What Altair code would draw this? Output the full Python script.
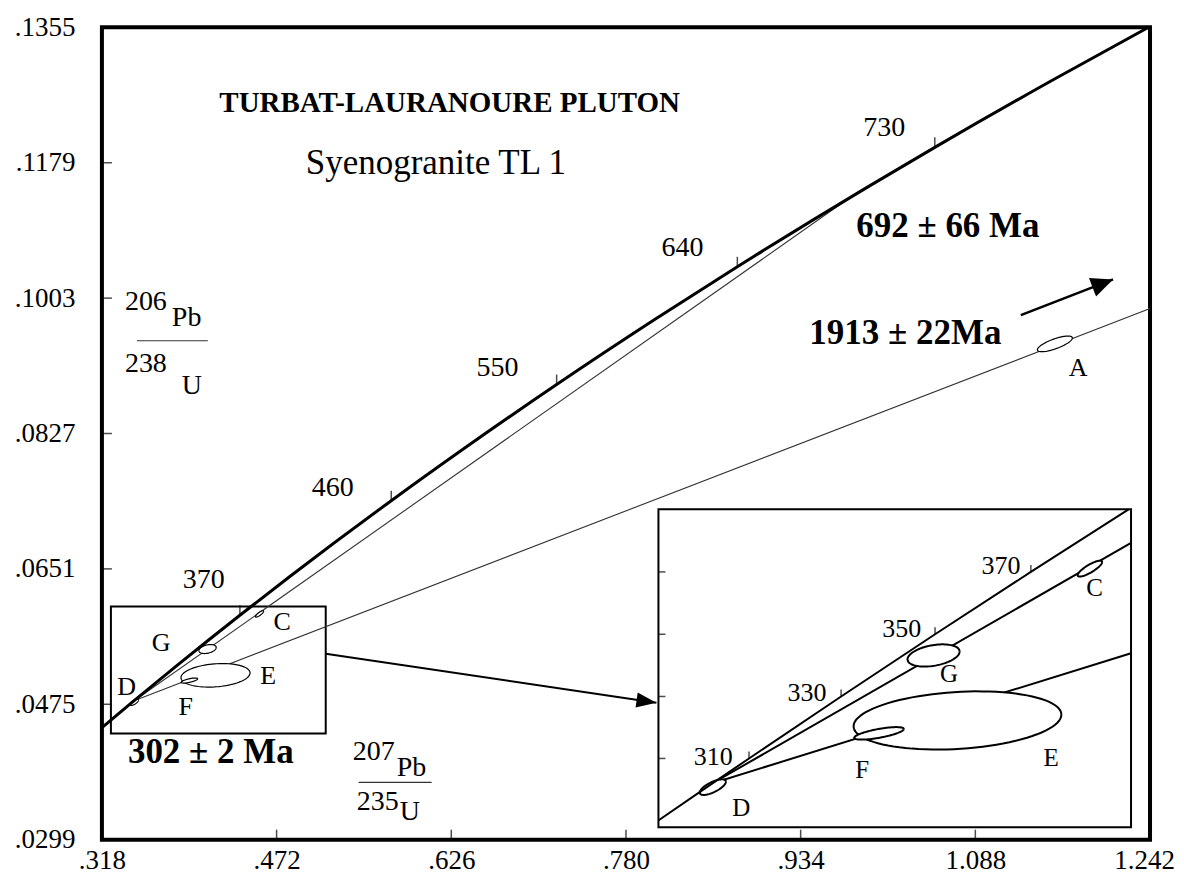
import altair as alt
import numpy as np
import pandas as pd

FONT = "Liberation Serif"

# ---------------- axes ----------------
x_ticks = [0.318, 0.472, 0.626, 0.780, 0.934, 1.088, 1.242]
y_ticks = [0.0299, 0.0475, 0.0651, 0.0827, 0.1003, 0.1179, 0.1355]

# ---------------- concordia (age Ma, 207Pb/235U, 206Pb/238U) ----------------
conc_age = [280, 300, 330, 370, 400, 460, 500, 550, 600, 640, 700, 730, 780, 820]
conc_x = [0.31753, 0.34374, 0.38403, 0.43964, 0.48281, 0.57307, 0.63628, 0.71887,
          0.80563, 0.87818, 0.99251, 1.05226, 1.15585, 1.24247]
conc_y = [0.044392, 0.047637, 0.052524, 0.059075, 0.064015, 0.073965, 0.080650,
          0.089064, 0.097544, 0.104375, 0.114702, 0.119902, 0.128622, 0.135647]

tick_age = [370, 460, 550, 640, 730]
tick_x = [0.43964, 0.57307, 0.71887, 0.87818, 1.05226]
tick_y = [0.059075, 0.073965, 0.089064, 0.104375, 0.119902]
tick_lab_x = [0.40784, 0.52147, 0.66681, 0.82976, 1.00769]
tick_lab_y = [0.06367, 0.07562, 0.09121, 0.10680, 0.12238]

# inset concordia
in_age = [290, 300, 310, 330, 350, 370, 390]
in_x = [0.33057, 0.34374, 0.35704, 0.38403, 0.41156, 0.43964, 0.46828]
in_y = [0.046013, 0.047637, 0.049264, 0.052524, 0.055795, 0.059075, 0.062366]
in_tick_age = [310, 330, 350, 370]
in_tick_x = [0.35704, 0.38403, 0.41156, 0.43964]
in_tick_y = [0.049264, 0.052524, 0.055795, 0.059075]
in_lab_x = [0.34658, 0.37401, 0.40180, 0.43086]
in_lab_y = [0.049329, 0.052702, 0.056070, 0.059401]

# discordia lines (lower intercept 302 Ma; upper 692 Ma / towards 1913 Ma)
disc_name = ["692", "692", "1913", "1913"]
disc_x = [0.34639, 0.97687, 0.34639, 1.242]
disc_y = [0.047962, 0.11331, 0.047962, 0.09894]
in_disc_x = [0.34639, 0.4690, 0.34639, 0.4690]
in_disc_y = [0.047962, 0.0606, 0.047962, 0.0548]

# error ellipses: name, centre, half-widths, correlation
ell_name = ["D", "G", "C", "E", "F", "A"]
ell_cx = [0.34643, 0.41113, 0.45695, 0.41814, 0.39515, 1.15813]
ell_cy = [0.047756, 0.054681, 0.059247, 0.051263, 0.050584, 0.094352]
ell_sx = [0.00383, 0.00763, 0.00358, 0.03045, 0.00726, 0.01541]
ell_sy = [0.00041, 0.000584, 0.000417, 0.00153, 0.000329, 0.00102]
ell_rho = [0.7, 0.35, 0.83, 0.2, 0.7, 0.75]

# labels
main_let = ["G", "C", "D", "E", "F", "A"]
main_let_x = [0.37010, 0.47699, 0.33976, 0.46448, 0.39181, 1.17857]
main_let_y = [0.05549, 0.05815, 0.04971, 0.05123, 0.04711, 0.09127]
in_let = ["C", "G", "E", "F", "D"]
in_let_x = [0.45832, 0.41562, 0.44555, 0.39021, 0.35480]
in_let_y = [0.058219, 0.053716, 0.049287, 0.048672, 0.046659]

# zoom box (main coords) and inset window (inset coords)
box_x = [0.32593, 0.5153]
box_y = [0.043709, 0.060204]
inset_xdom = [0.3305, 0.4690]
inset_ydom = [0.04564, 0.06237]

# arrows
arr1_x = [0.5153, 0.80685]
arr1_y = [0.05406, 0.0477]
arr2_x = [1.12809, 1.20939]
arr2_y = [0.09809, 0.10273]

# free annotations
big_t = ["692 ± 66 Ma", "1913 ± 22Ma", "302 ± 2 Ma"]
big_x = [0.98302, 0.94162, 0.34090]
big_y = [0.10965, 0.09575, 0.04133]

frac_t = ["206", "Pb", "238", "U", "207", "Pb", "235", "U"]
frac_x = [0.33826, 0.37966, 0.33826, 0.38847, 0.53909, 0.57784, 0.54261, 0.58048]
frac_y = [0.09978, 0.09770, 0.09173, 0.08887, 0.04133, 0.03925, 0.03484, 0.03354]
bar_x = [0.34883, 0.54437]
bar_x2 = [0.41137, 0.60867]
bar_y = [0.09476, 0.03735]

# ---------------- geometry ----------------
W, H = 1049, 813
INSET_RX = [557, 1030]
INSET_RY = [800.7, 482.3]

XMIN, XMAX = x_ticks[0], x_ticks[-1]
YMIN, YMAX = y_ticks[0], y_ticks[-1]

mx = alt.Scale(domain=[XMIN, XMAX], nice=False, zero=False)
my = alt.Scale(domain=[YMIN, YMAX], nice=False, zero=False)
ix = alt.Scale(domain=inset_xdom, range=INSET_RX, nice=False, zero=False)
iy = alt.Scale(domain=inset_ydom, range=INSET_RY, nice=False, zero=False)

x_axis = alt.Axis(values=x_ticks, title=None, grid=False, ticks=False, domain=False,
                  labelExpr="datum.value < 1 ? substring(format(datum.value, '.3f'), 1) : format(datum.value, '.3f')",
                  labelFont=FONT, labelFontSize=27, labelPadding=8, labelColor="black",
                  labelOffset={"condition": {"test": "datum.value > 1.2", "value": -6}, "value": 0},
                  labelFlush=False, labelOverlap=False)
y_axis = alt.Axis(values=y_ticks, title=None, grid=False, ticks=False, domain=False,
                  labelExpr="substring(format(datum.value, '.4f'), 1)",
                  labelFont=FONT, labelFontSize=27, labelPadding=27, labelColor="black",
                  labelFlush=False, labelOverlap=False)


def MX(f="x"):
    return alt.X(f, type="quantitative", scale=mx, axis=x_axis)


def MY(f="y"):
    return alt.Y(f, type="quantitative", scale=my, axis=y_axis)


def IX(f="x"):
    return alt.X(f, type="quantitative", scale=ix, axis=None)


def IY(f="y"):
    return alt.Y(f, type="quantitative", scale=iy, axis=None)


def ellipses(names):
    rows = []
    ts = np.linspace(0, 2 * np.pi, 91)
    for n, cx, cy, sx, sy, r in zip(ell_name, ell_cx, ell_cy, ell_sx, ell_sy, ell_rho):
        if n not in names:
            continue
        for k, t in enumerate(ts):
            rows.append({"name": n, "k": k,
                         "x": cx + sx * np.cos(t),
                         "y": cy + sy * (r * np.cos(t) + np.sqrt(1 - r * r) * np.sin(t))})
    return pd.DataFrame(rows)


conc_df = pd.DataFrame({"age": conc_age, "x": conc_x, "y": conc_y})
tick_df = pd.DataFrame({"age": tick_age, "x": tick_x, "y": tick_y})
tlab_df = pd.DataFrame({"t": [str(a) for a in tick_age], "x": tick_lab_x, "y": tick_lab_y})
in_df = pd.DataFrame({"age": in_age, "x": in_x, "y": in_y})
in_tick_df = pd.DataFrame({"age": in_tick_age, "x": in_tick_x, "y": in_tick_y})
in_tlab_df = pd.DataFrame({"t": [str(a) for a in in_tick_age], "x": in_lab_x, "y": in_lab_y})
in_edge_df = pd.DataFrame({"x": [inset_xdom[0]] * len(in_tick_y), "y": in_tick_y})
disc_df = pd.DataFrame({"name": disc_name, "x": disc_x, "y": disc_y, "k": [0, 1, 0, 1]})
in_disc_df = pd.DataFrame({"name": disc_name, "x": in_disc_x, "y": in_disc_y, "k": [0, 1, 0, 1]})
xt_df = pd.DataFrame({"x": x_ticks[1:-1], "y": [YMIN] * (len(x_ticks) - 2)})
yt_df = pd.DataFrame({"y": y_ticks[1:-1], "x": [XMIN] * (len(y_ticks) - 2)})

# ---------------- main panel ----------------
box = alt.Chart(pd.DataFrame({"x": [box_x[0]], "x2": [box_x[1]], "y": [box_y[0]], "y2": [box_y[1]]})).mark_rect(
    fill=None, stroke="black", strokeWidth=2).encode(x=MX(), x2="x2", y=MY(), y2="y2")

disc = alt.Chart(disc_df).mark_line(color="#333333", strokeWidth=1.1, clip=True).encode(
    x=MX(), y=MY(), detail="name:N", order="k:Q")

ell_main = alt.Chart(ellipses(ell_name)).mark_line(fill="white", stroke="black", strokeWidth=1.2).encode(
    x=MX(), y=MY(), detail="name:N", order="k:Q")

conc = alt.Chart(conc_df).mark_line(color="black", strokeWidth=3, clip=True, interpolate="monotone").encode(
    x=MX(), y=MY(), order="age:Q")

age_ticks = alt.Chart(tick_df).mark_tick(orient="vertical", size=10, thickness=1.5, color="black", yOffset=-5).encode(
    x=MX(), y=MY())

age_labels = alt.Chart(tlab_df).mark_text(font=FONT, fontSize=28, color="black").encode(
    x=MX(), y=MY(), text="t:N")

x_inticks = alt.Chart(xt_df).mark_tick(orient="vertical", size=10, thickness=1.5, color="black", yOffset=-5).encode(
    x=MX(), y=MY())
y_inticks = alt.Chart(yt_df).mark_tick(orient="horizontal", size=10, thickness=1.5, color="black", xOffset=5).encode(
    x=MX(), y=MY())

letters = alt.Chart(pd.DataFrame({"t": main_let, "x": main_let_x, "y": main_let_y})).mark_text(
    font=FONT, fontSize=26, color="black").encode(x=MX(), y=MY(), text="t:N")

title = alt.Chart(pd.DataFrame({"t": ["TURBAT-LAURANOURE PLUTON"], "x": [0.62453], "y": [0.12563]})).mark_text(
    font=FONT, fontSize=29, fontWeight="bold", color="black").encode(x=MX(), y=MY(), text="t:N")
subtitle = alt.Chart(pd.DataFrame({"t": ["Syenogranite TL 1"], "x": [0.49769], "y": [0.11784]})).mark_text(
    font=FONT, fontSize=35, align="left", color="black").encode(x=MX(), y=MY(), text="t:N")
big = alt.Chart(pd.DataFrame({"t": big_t, "x": big_x, "y": big_y})).mark_text(
    font=FONT, fontSize=35, fontWeight="bold", align="left", color="black").encode(x=MX(), y=MY(), text="t:N")

frac = alt.Chart(pd.DataFrame({"t": frac_t, "x": frac_x, "y": frac_y})).mark_text(
    font=FONT, fontSize=28, align="left", color="black").encode(x=MX(), y=MY(), text="t:N")
bars = alt.Chart(pd.DataFrame({"x": bar_x, "x2": bar_x2, "y": bar_y})).mark_rule(
    color="#333333", strokeWidth=1.2).encode(x=MX(), x2="x2", y=MY())

arrow1 = alt.Chart(pd.DataFrame({"x": [arr1_x[0]], "x2": [arr1_x[1]], "y": [arr1_y[0]], "y2": [arr1_y[1]]})).mark_rule(
    color="black", strokeWidth=2).encode(x=MX(), x2="x2", y=MY(), y2="y2")
head1 = alt.Chart(pd.DataFrame({"x": [arr1_x[1]], "y": [arr1_y[1]]})).mark_point(
    shape="M 0 0 L -2 -0.75 L -2 0.75 Z", size=400, angle=8, filled=True, color="black", opacity=1).encode(
    x=MX(), y=MY())
arrow2 = alt.Chart(pd.DataFrame({"x": [arr2_x[0]], "x2": [arr2_x[1]], "y": [arr2_y[0]], "y2": [arr2_y[1]]})).mark_rule(
    color="black", strokeWidth=2.5).encode(x=MX(), x2="x2", y=MY(), y2="y2")
head2 = alt.Chart(pd.DataFrame({"x": [arr2_x[1]], "y": [arr2_y[1]]})).mark_point(
    shape="M 0 0 L -2 -0.9 L -2 0.9 Z", size=484, angle=339, filled=True, color="black", opacity=1).encode(
    x=MX(), y=MY())

main = alt.layer(box, disc, ell_main, conc, age_ticks, age_labels, x_inticks, y_inticks,
                 letters, title, subtitle, big, frac, bars, arrow1, head1, arrow2, head2)

# ---------------- inset panel ----------------
frame = alt.Chart(pd.DataFrame({"x": [inset_xdom[0]], "x2": [inset_xdom[1]],
                                "y": [inset_ydom[0]], "y2": [inset_ydom[1]]})).mark_rect(
    fill="white", stroke="black", strokeWidth=2).encode(x=IX(), x2="x2", y=IY(), y2="y2")
in_edge = alt.Chart(in_edge_df).mark_tick(orient="horizontal", size=7, thickness=1.5, color="black", xOffset=3.5).encode(
    x=IX(), y=IY())
in_disc = alt.Chart(in_disc_df).mark_line(color="black", strokeWidth=2).encode(
    x=IX(), y=IY(), detail="name:N", order="k:Q")
in_ell = alt.Chart(ellipses(["D", "G", "C", "E", "F"])).mark_line(fill="white", stroke="black", strokeWidth=2).encode(
    x=IX(), y=IY(), detail="name:N", order="k:Q")
in_conc = alt.Chart(in_df).mark_line(color="black", strokeWidth=2).encode(x=IX(), y=IY(), order="age:Q")
in_ticks = alt.Chart(in_tick_df).mark_tick(orient="vertical", size=7, thickness=1.5, color="black", yOffset=-3.5).encode(
    x=IX(), y=IY())
in_tlab = alt.Chart(in_tlab_df).mark_text(font=FONT, fontSize=26, color="black").encode(x=IX(), y=IY(), text="t:N")
in_letters = alt.Chart(pd.DataFrame({"t": in_let, "x": in_let_x, "y": in_let_y})).mark_text(
    font=FONT, fontSize=25, color="black").encode(x=IX(), y=IY(), text="t:N")

inset = alt.layer(frame, in_edge, in_disc, in_ell, in_conc, in_ticks, in_tlab, in_letters)

chart = alt.layer(main, inset).resolve_scale(x="independent", y="independent").properties(
    width=W, height=H,
    autosize=alt.AutoSizeParams(type="none"),
    padding={"left": 94, "top": 19, "right": 26, "bottom": 40},
    background="white",
).configure_view(stroke="black", strokeWidth=4)

chart.save("out.html", embed_options={"renderer": "svg", "actions": False})
